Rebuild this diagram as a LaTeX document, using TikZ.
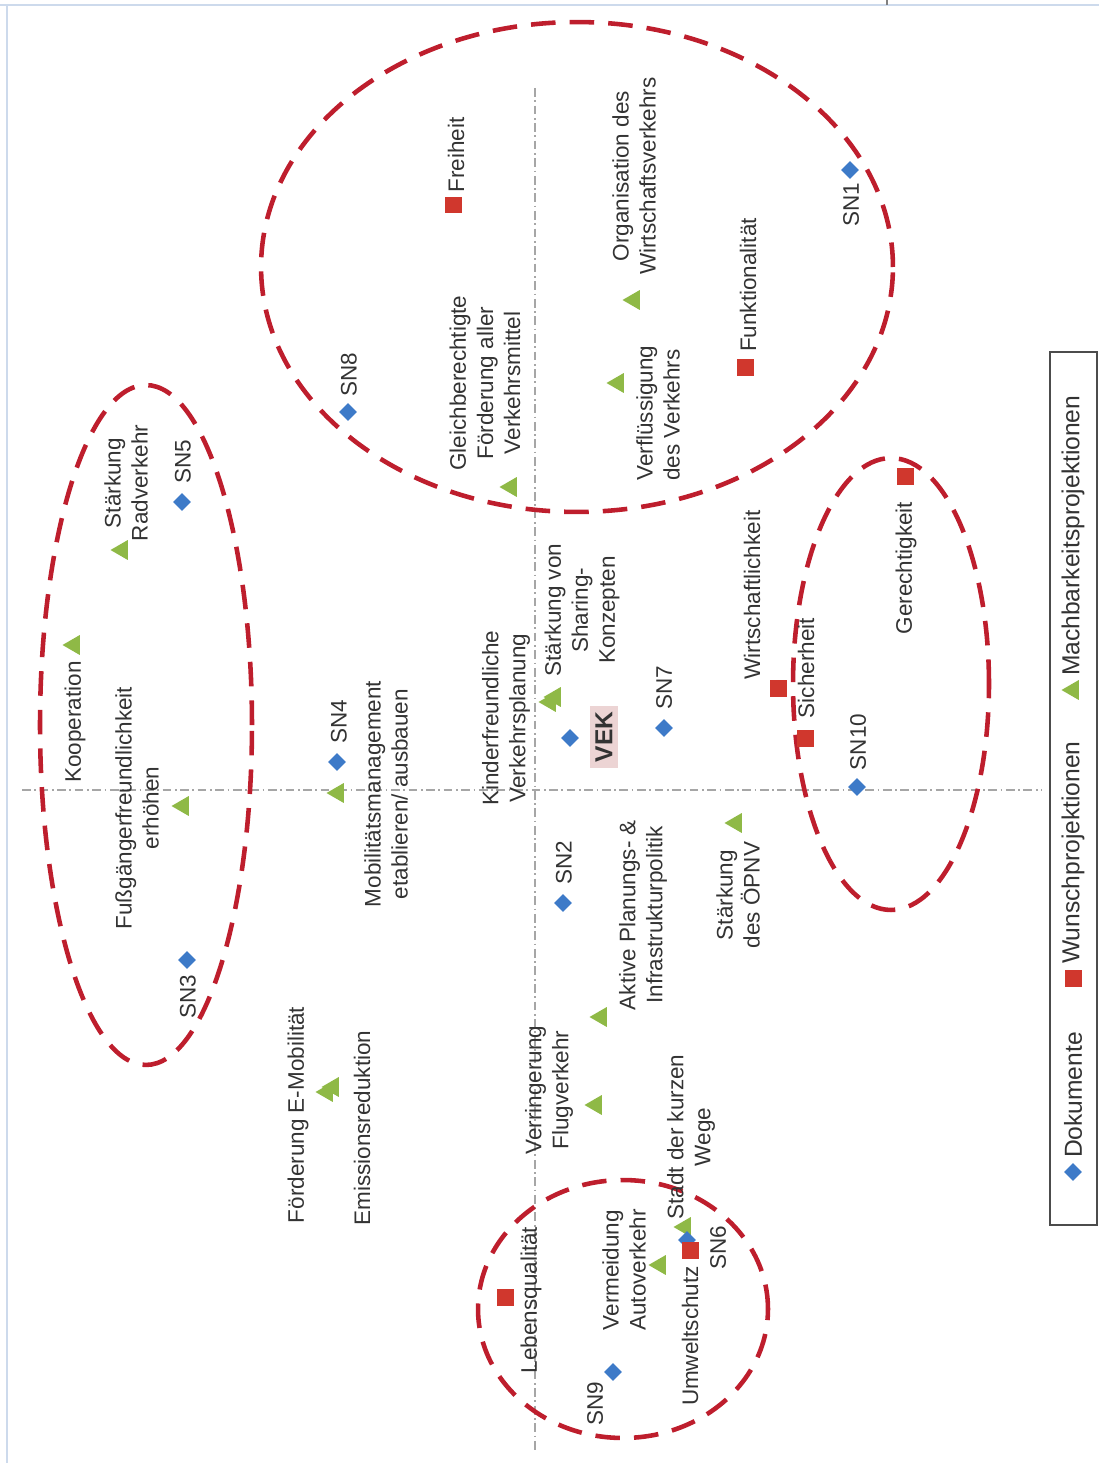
\documentclass[tikz,border=0pt]{standalone}
\usepackage{fontspec}
\setmainfont{Liberation Sans}
\usetikzlibrary{shapes.geometric}
\definecolor{docblue}{RGB}{61,122,200}
\definecolor{wishred}{RGB}{208,55,45}
\definecolor{feasgreen}{RGB}{143,185,70}
\definecolor{ringred}{RGB}{190,30,45}
\definecolor{framebl}{RGB}{205,218,236}
\definecolor{vekpink}{RGB}{236,212,212}

\begin{document}
\begin{tikzpicture}[x=0.02cm, y=-0.02cm, every node/.style={font=\fontsize{12.8}{15.4}\selectfont, text=black!80},
	doc/.style={diamond, fill=docblue, minimum size=3.6mm, inner sep=0pt},
	wish/.style={rectangle, fill=wishred, minimum size=3.4mm, inner sep=0pt},
	feas/.style={regular polygon, regular polygon sides=3, shape border rotate=90, fill=feasgreen, minimum size=4.6mm, inner sep=0pt},
	lab/.style={rotate=90, inner sep=1pt, align=center},
	key/.style={rotate=90, inner sep=1pt, anchor=west, font=\fontsize{14}{16}\selectfont},
	ring/.style={draw=ringred, line width=2.6pt, dash pattern=on 14pt off 8pt},
	axis/.style={draw=gray!70, line width=0.6pt, dash pattern=on 5pt off 2pt on 1pt off 2pt}]
	\useasboundingbox (0,0) rectangle (1099,1463);
	% frame and axes
	\draw[framebl, line width=1.5pt] (0,5) -- (1099,5);
	\draw[framebl, line width=1.5pt] (7,5) -- (7,1463);
	\draw[gray, line width=1.2pt] (887,0) -- (887,5);
	\draw[axis] (535,88) -- (535,1450);
	\draw[axis] (22,790) -- (1042,790);
	% clusters
	\draw[ring] (577,267) ellipse (6.32cm and 4.9cm);
	\draw[ring] (146,725) ellipse (2.12cm and 6.8cm);
	\draw[ring] (891,684) ellipse (1.96cm and 4.52cm);
	\draw[ring] (623,1309) ellipse (2.9cm and 2.58cm);
	% Machbarkeitsprojektionen
	\node[feas] (fOrga) at (634,300) {};
	\node[feas] (fVerfl) at (618,383) {};
	\node[feas] (fGleich) at (511,487) {};
	\node[feas] (fRad) at (122,550) {};
	\node[feas] (fKoop) at (74,645) {};
	\node[feas] (fFuss) at (183,806) {};
	\node[feas] (fMobil) at (338,793) {};
	\node[feas] (fKind) at (550,702) {};
	\node[feas] (fShare) at (555,697) {};
	\node[feas] (fOepnv) at (736,823) {};
	\node[feas] (fAktiv) at (601,1017) {};
	\node[feas] (fFlug) at (596,1105) {};
	\node[feas] (fEmob) at (327,1092) {};
	\node[feas] (fEmis) at (333,1087) {};
	\node[feas] (fVerm) at (660,1265) {};
	\node[feas] (fStadt) at (685,1227) {};
	% Dokumente
	\node[doc] (sn1) at (850,170) {};
	\node[doc] (sn8) at (348,412) {};
	\node[doc] (sn5) at (182,502) {};
	\node[doc] (sn4) at (337,762) {};
	\node[doc] (sn3) at (187,960) {};
	\node[doc] (sn2) at (563,903) {};
	\node[doc] (vek) at (570,738) {};
	\node[doc] (sn7) at (664,728) {};
	\node[doc] (sn10) at (857,787) {};
	\node[doc] (sn9) at (613,1372) {};
	\node[doc] (sn6) at (687,1240) {};
	% Wunschprojektionen
	\node[wish] (wFrei) at (453,205) {};
	\node[wish] (wFunk) at (745,367) {};
	\node[wish] (wGerecht) at (905,476) {};
	\node[wish] (wWirt) at (778,688) {};
	\node[wish] (wSicher) at (805,738) {};
	\node[wish] (wLeben) at (505,1297) {};
	\node[wish] (wUmwelt) at (690,1250) {};
	% labels
	\node[lab] (lOrga) at (634,176) {Organisation des\\Wirtschaftsverkehrs};
	\node[lab, align=left] (lVerfl) at (658,413) {Verflüssigung\\des Verkehrs};
	\node[lab] (lGleich) at (485,383) {Gleichberechtigte\\Förderung aller\\Verkehrsmittel};
	\node[lab] (lRad) at (126,483) {Stärkung\\Radverkehr};
	\node[lab] (lKoop) at (75,722) {Kooperation};
	\node[lab] (lFuss) at (137,808) {Fußgängerfreundlichkeit\\erhöhen};
	\node[lab] (lMobil) at (386,794) {Mobilitätsmanagement\\etablieren/ ausbauen};
	\node[lab] (lKind) at (506,718) {Kinderfreundliche\\Verkehrsplanung};
	\node[lab] (lShare) at (582,610) {Stärkung von\\Sharing-\\Konzepten};
	\node[lab] (lOepnv) at (738,895) {Stärkung\\des ÖPNV};
	\node[lab] (lAktiv) at (643,915) {Aktive Planungs- \&\\Infrastrukturpolitik};
	\node[lab] (lFlug) at (549,1090) {Verringerung\\Flugverkehr};
	\node[lab] (lEmob) at (298,1115) {Förderung E-Mobilität};
	\node[lab] (lEmis) at (362,1128) {Emissionsreduktion};
	\node[lab] (lVerm) at (624,1270) {Vermeidung\\Autoverkehr};
	\node[lab] (lStadt) at (691,1137) {Stadt der kurzen\\Wege};
	\node[lab] (lsn1) at (851,205) {SN1};
	\node[lab] (lsn8) at (349,375) {SN8};
	\node[lab] (lsn5) at (183,462) {SN5};
	\node[lab] (lsn4) at (339,722) {SN4};
	\node[lab] (lsn3) at (188,997) {SN3};
	\node[lab] (lsn2) at (564,863) {SN2};
	\node[lab, fill=vekpink, font=\fontsize{14}{16}\selectfont\bfseries, inner sep=3pt] (lvek) at (604,737) {VEK};
	\node[lab] (lsn7) at (664,688) {SN7};
	\node[lab] (lsn10) at (858,742) {SN10};
	\node[lab] (lsn9) at (595,1404) {SN9};
	\node[lab] (lsn6) at (718,1248) {SN6};
	\node[lab] (lFrei) at (456,155) {Freiheit};
	\node[lab] (lFunk) at (748,285) {Funktionalität};
	\node[lab] (lGerecht) at (906,568) {Gerechtigkeit};
	\node[lab] (lWirt) at (752,595) {Wirtschaftlichkeit};
	\node[lab] (lSicher) at (806,668) {Sicherheit};
	\node[lab] (lLeben) at (531,1300) {Lebensqualität};
	\node[lab] (lUmwelt) at (690,1336) {Umweltschutz};
	% legend
	\draw[gray!60!black, line width=0.8pt, fill=white] (1050,352) rectangle (1097,1225);
	\node[doc] (kDoc) at (1073,1172) {};
	\node[wish] (kWish) at (1073,978) {};
	\node[feas] (kFeas) at (1073,690) {};
	\node[key] (tDoc) at (1073,1160) {Dokumente};
	\node[key] (tWish) at (1073,966) {Wunschprojektionen};
	\node[key] (tFeas) at (1073,678) {Machbarkeitsprojektionen};
\end{tikzpicture}
\end{document}
